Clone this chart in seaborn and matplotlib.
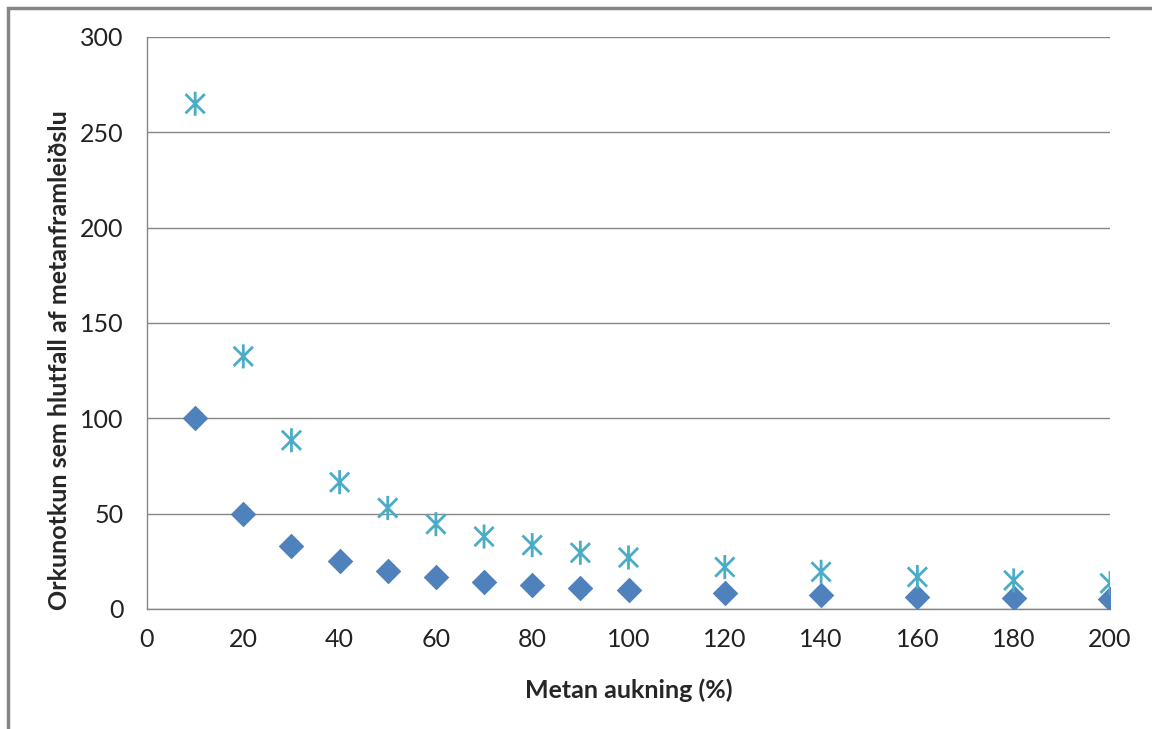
import numpy as np
import pandas as pd
import seaborn as sns
import matplotlib.pyplot as plt
from matplotlib.path import Path
from matplotlib.patches import Rectangle

# Gögn lesin af myndinni
metan_aukning = [10, 20, 30, 40, 50, 60, 70, 80, 90, 100, 120, 140, 160, 180, 200]
rod_a = [100, 50, 33.3, 25, 20, 16.7, 14.3, 12.5, 11.1, 10, 8.3, 7.1, 6.3, 5.6, 5]
rod_b = [265, 132.5, 88.5, 66.5, 53, 44.5, 38, 33.5, 29.5, 27, 22, 19.5, 16.8, 15, 13.5]

sns.set_style("white")
plt.rcParams['font.family'] = ['Lato', 'DejaVu Sans']

fig = plt.figure(figsize=(11.52, 7.29), dpi=100)
ax = fig.add_axes([147 / 1152, 1 - 609 / 729, 963 / 1152, 572 / 729])

# grár rammi utan um myndina
fig.patches.append(Rectangle((8 / 1152, -0.05), 1.2, 1 - 8 / 729 + 0.05,
                             transform=fig.transFigure, fill=False,
                             edgecolor='#868686', linewidth=2.5, zorder=0))

# stjörnumerki eins og í Excel: lóðrétt lína + X
star = Path([(0, -1), (0, 1), (-0.8, -0.8), (0.8, 0.8), (-0.8, 0.8), (0.8, -0.8)],
            [Path.MOVETO, Path.LINETO, Path.MOVETO, Path.LINETO, Path.MOVETO, Path.LINETO])

df = pd.DataFrame({'x': metan_aukning, 'a': rod_a, 'b': rod_b})
sns.scatterplot(data=df, x='x', y='a', marker='D', s=170, color='#4F81BD',
                edgecolor='#4F81BD', linewidth=0, ax=ax, zorder=3)
sns.scatterplot(data=df, x='x', y='b', marker=star, s=300, facecolor='none',
                edgecolor='#4BACC6', color='#4BACC6', linewidth=2, ax=ax, zorder=4)

ax.set_xlim(0, 200)
ax.set_ylim(0, 300)
ax.set_xticks(range(0, 201, 20))
ax.set_yticks(range(0, 301, 50))
ax.yaxis.grid(True, color='#868686', linewidth=1)
ax.set_axisbelow(True)
for side in ['top', 'right']:
    ax.spines[side].set_visible(False)
for side in ['left', 'bottom']:
    ax.spines[side].set_color('#868686')
    ax.spines[side].set_linewidth(1)
ax.tick_params(axis='both', which='both', direction='out', length=7, width=1,
               color='#868686', labelsize=18, labelcolor='#222222', pad=7)
ax.tick_params(axis='y', length=7, pad=10)

ax.set_xlabel('Metan aukning (%)', fontsize=18, fontweight='bold')
ax.set_ylabel('Orkunotkun sem hlutfall af metanframleiðslu', fontsize=18,
              fontweight='bold')
ax.yaxis.set_label_coords(-76 / 963, (609 - 360) / 572)
ax.xaxis.set_label_coords(0.5, -69 / 572)

fig.savefig('out.png', dpi=100)
